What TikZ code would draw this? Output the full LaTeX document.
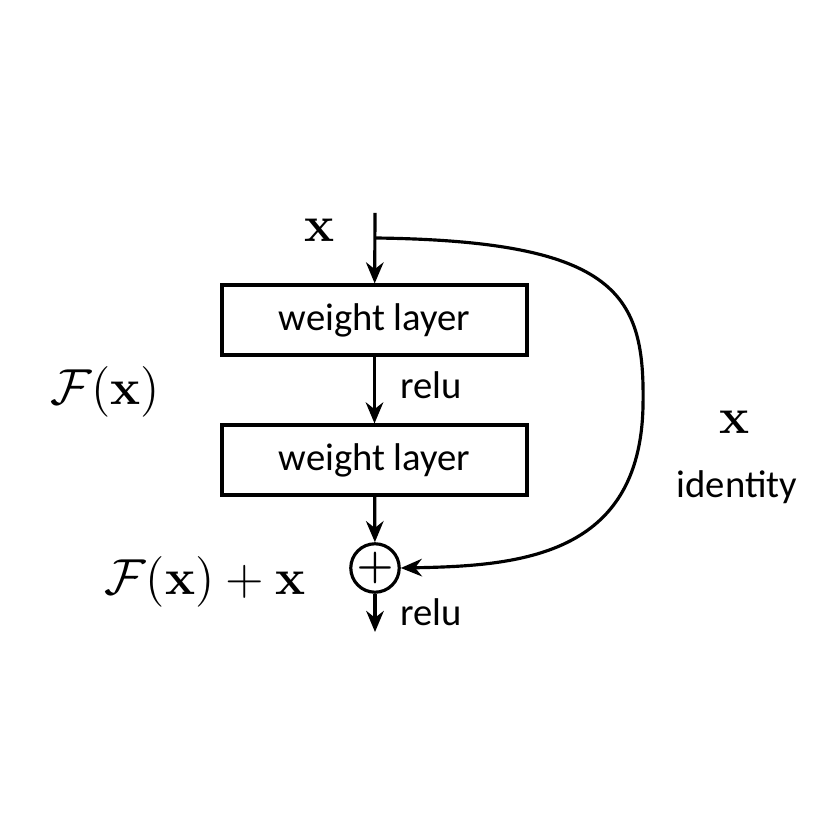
\documentclass[tikz,border=0pt]{standalone}
\usepackage[no-math]{fontspec}
\usepackage{amsmath}
\setmainfont{Carlito}
\usetikzlibrary{arrows.meta}
\tikzset{
  layer/.style={draw, line width=0.9pt, minimum width=3.05cm, minimum height=0.7cm, font=\fontsize{11}{13}\selectfont},
  flow/.style={draw, line width=0.9pt, -{Stealth[length=6pt,width=5pt]}},
  lbl/.style={font=\fontsize{11}{13}\selectfont},
  mlbl/.style={font=\fontsize{15.5}{18}\selectfont}
}
\begin{document}
\begin{tikzpicture}
\useasboundingbox (0,0) rectangle (8.26,8.26);
\node[layer] (w1) at (3.745,5.06) {weight layer};
\node[layer] (w2) at (3.745,3.66) {weight layer};
\node[draw, circle, line width=0.9pt, inner sep=0pt, minimum size=0.4cm, font=\large] (add) at (3.75,2.58) {$\boldsymbol{+}$};
\coordinate (in) at (3.75,6.13);
\coordinate (split) at (3.75,5.88);
\coordinate (out) at (3.75,1.94);

\node[mlbl] (xin) at (3.2,5.96) {$\mathbf{x}$};
\node[lbl, anchor=west] (relu1) at (3.88,4.41) {relu};
\node[lbl, anchor=west] (relu2) at (3.88,2.14) {relu};
\node[mlbl] (fx) at (1.05,4.34) {$\mathcal{F}(\mathbf{x})$};
\node[mlbl] (fxx) at (2.05,2.44) {$\mathcal{F}(\mathbf{x})+\mathbf{x}$};
\node[mlbl] (xid) at (7.35,4.04) {$\mathbf{x}$};
\node[lbl] (ident) at (7.37,3.39) {identity};

\path[flow] (in) -- (w1);
\path[flow] (w1) -- (w2);
\path[flow] (w2) -- (add);
\path[flow] (add) -- (out);
\path[flow] (split) .. controls (6.2,5.85) and (6.45,5.3) .. (6.43,4.2)
  .. controls (6.4,2.7) and (5.2,2.6) .. (add.east);
\end{tikzpicture}
\end{document}
